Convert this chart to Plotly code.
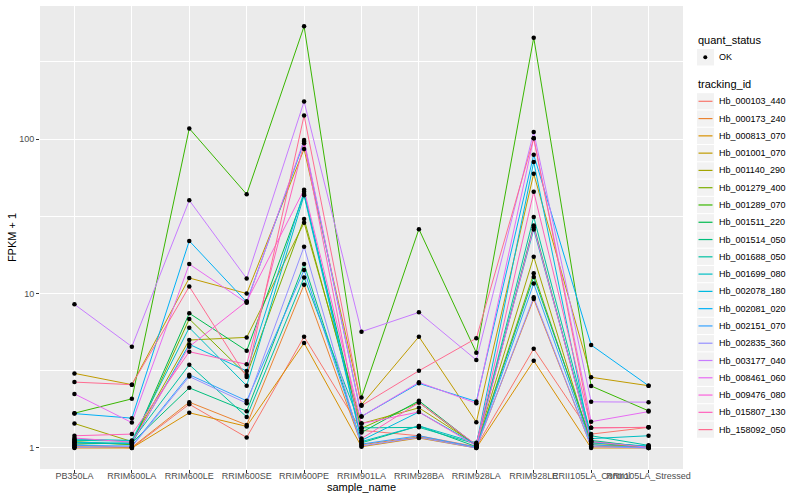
import plotly.graph_objects as go

samples = ["PB350LA", "RRIM600LA", "RRIM600LE", "RRIM600SE", "RRIM600PE", "RRIM901LA",
           "RRIM928BA", "RRIM928LA", "RRIM928LE", "RRII105LA_Control", "RRII105LA_Stressed"]

tracking_ids = ["Hb_000103_440", "Hb_000173_240", "Hb_000813_070", "Hb_001001_070", "Hb_001140_290",
                "Hb_001279_400", "Hb_001289_070", "Hb_001511_220", "Hb_001514_050", "Hb_001688_050",
                "Hb_001699_080", "Hb_002078_180", "Hb_002081_020", "Hb_002151_070", "Hb_002835_360",
                "Hb_003177_040", "Hb_008461_060", "Hb_009476_080", "Hb_015807_130", "Hb_158092_050"]

colors = ["#F8766D", "#EA8331", "#D89000", "#C09B00", "#A3A500", "#7CAE00", "#39B600", "#00BB4E",
          "#00BF7D", "#00C1A3", "#00BFC4", "#00BAE0", "#00B0F6", "#35A2FF", "#9590FF", "#C77CFF",
          "#E76BF3", "#FA62DB", "#FF62BC", "#FF6C91"]

# FPKM + 1 per tracking_id, in the order of samples
fpkm_000103_440 = [1.05, 1.00, 1.92, 1.17, 5.25, 1.30, 1.20, 1.02, 4.39, 1.23, 1.36]
fpkm_000173_240 = [1.02, 1.01, 1.98, 1.41, 11.4, 1.05, 1.18, 1.01, 9.2, 1.02, 1.03]
fpkm_000813_070 = [1.00, 1.00, 1.69, 1.38, 4.78, 1.02, 1.16, 1.00, 3.67, 1.00, 1.00]
fpkm_001001_070 = [3.04, 2.57, 12.6, 10.0, 86.1, 1.90, 5.25, 1.47, 59.6, 2.87, 2.53]
fpkm_001140_290 = [1.44, 1.10, 5.0, 5.2, 28.7, 1.44, 1.82, 1.05, 17.3, 1.05, 1.02]
fpkm_001279_400 = [1.10, 1.05, 6.84, 2.97, 30.4, 1.34, 1.97, 1.03, 13.5, 1.08, 1.01]
fpkm_001289_070 = [1.68, 2.08, 117.0, 43.9, 536.0, 2.12, 26.1, 4.14, 453.0, 2.52, 1.74]
fpkm_001511_220 = [1.08, 1.06, 7.45, 4.26, 44.0, 1.26, 2.02, 1.04, 27.6, 1.10, 1.02]
fpkm_001514_050 = [1.06, 1.08, 2.45, 1.73, 15.5, 1.08, 1.39, 1.02, 12.8, 1.12, 1.01]
fpkm_001688_050 = [1.12, 1.11, 3.46, 1.59, 12.7, 1.35, 1.36, 1.06, 31.3, 1.20, 1.04]
fpkm_001699_080 = [1.14, 1.12, 6.01, 2.53, 43.2, 1.10, 1.39, 1.08, 26.0, 1.15, 1.20]
fpkm_002078_180 = [1.09, 1.07, 4.69, 3.15, 45.5, 1.12, 1.71, 1.05, 71.0, 1.08, 1.03]
fpkm_002081_020 = [1.67, 1.56, 21.9, 8.8, 96.0, 1.60, 2.62, 2.00, 79.1, 4.64, 2.53]
fpkm_002151_070 = [1.04, 1.03, 2.98, 2.02, 14.2, 1.06, 1.20, 1.01, 11.6, 1.05, 1.00]
fpkm_002835_360 = [1.01, 1.02, 2.90, 1.95, 20.1, 1.03, 1.17, 1.00, 9.45, 1.02, 1.00]
fpkm_003177_040 = [8.51, 4.53, 40.1, 12.5, 175.0, 5.66, 7.55, 3.71, 111.0, 1.99, 1.98]
fpkm_008461_060 = [2.24, 1.46, 15.5, 8.7, 98.6, 1.60, 2.66, 1.95, 101.0, 1.48, 1.72]
fpkm_009476_080 = [1.16, 1.09, 4.53, 8.9, 47.0, 1.44, 1.71, 1.03, 26.8, 1.10, 1.01]
fpkm_015807_130 = [1.20, 1.23, 4.2, 3.48, 93.8, 1.15, 1.97, 1.05, 45.6, 1.35, 1.36]
fpkm_158092_050 = [2.67, 2.57, 11.1, 2.88, 142.0, 1.88, 3.16, 5.13, 101.0, 1.35, 1.36]

series = [fpkm_000103_440, fpkm_000173_240, fpkm_000813_070, fpkm_001001_070, fpkm_001140_290,
          fpkm_001279_400, fpkm_001289_070, fpkm_001511_220, fpkm_001514_050, fpkm_001688_050,
          fpkm_001699_080, fpkm_002078_180, fpkm_002081_020, fpkm_002151_070, fpkm_002835_360,
          fpkm_003177_040, fpkm_008461_060, fpkm_009476_080, fpkm_015807_130, fpkm_158092_050]

quant_status = ["OK"]

y_ticks = [1, 10, 100]
y_tick_labels = ["1", "10", "100"]
y_minor = [10 ** 0.5, 10 ** 1.5, 10 ** 2.5]

FONT = "Liberation Sans, Arial, sans-serif"

W, H = 800, 500
ML, MR, MT, MB = 40, 117, 6, 31
PW, PH = W - ML - MR, H - MT - MB


def px(x):
    return (x - ML) / PW


def py(y):
    return (H - MB - y) / PH


fig = go.Figure()

for tid, col, vals in zip(tracking_ids, colors, series):
    fig.add_trace(go.Scatter(
        x=samples, y=vals, mode="lines", name=tid,
        line=dict(color=col, width=1), showlegend=False,
    ))

all_x = [s for _ in series for s in samples]
all_y = [v for vals in series for v in vals]
fig.add_trace(go.Scatter(
    x=all_x, y=all_y, mode="markers", name=quant_status[0],
    marker=dict(color="black", size=4.5), showlegend=False,
))

# ggplot-style legend drawn in paper coordinates
shapes = []
annotations = []
KEY_X0, KEY_X1, TEXT_X = 697, 714, 717
annotations.append(dict(text="quant_status", x=px(696), y=py(40), xref="paper", yref="paper",
                        xanchor="left", yanchor="middle", showarrow=False,
                        font=dict(family=FONT, size=11, color="black")))
shapes.append(dict(type="rect", xref="paper", yref="paper", x0=px(KEY_X0), x1=px(KEY_X1),
                   y0=py(49), y1=py(65.5), fillcolor="#F2F2F2", line=dict(width=0), layer="below"))
shapes.append(dict(type="circle", xref="paper", yref="paper", x0=px(703.3), x1=px(707.3),
                   y0=py(55.3), y1=py(59.3), fillcolor="black", line=dict(width=0)))
annotations.append(dict(text=quant_status[0], x=px(TEXT_X), y=py(57.3), xref="paper", yref="paper",
                        xanchor="left", yanchor="middle", showarrow=False,
                        font=dict(family=FONT, size=9, color="black")))
annotations.append(dict(text="tracking_id", x=px(696), y=py(84.3), xref="paper", yref="paper",
                        xanchor="left", yanchor="middle", showarrow=False,
                        font=dict(family=FONT, size=11, color="black")))
STEP = 17.28
for i, (tid, col) in enumerate(zip(tracking_ids, colors)):
    yc = 101.3 + i * STEP
    shapes.append(dict(type="rect", xref="paper", yref="paper", x0=px(KEY_X0), x1=px(KEY_X1),
                       y0=py(yc + 8.1), y1=py(yc - 8.1), fillcolor="#F2F2F2", line=dict(width=0),
                       layer="below"))
    shapes.append(dict(type="line", xref="paper", yref="paper", x0=px(698.5), x1=px(712.5),
                       y0=py(yc), y1=py(yc), line=dict(color=col, width=1.2)))
    annotations.append(dict(text=tid, x=px(TEXT_X), y=py(yc), xref="paper", yref="paper",
                            xanchor="left", yanchor="middle", showarrow=False,
                            font=dict(family=FONT, size=9, color="black")))

fig.update_layout(
    width=W, height=H,
    margin=dict(l=ML, r=MR, t=MT, b=MB),
    paper_bgcolor="white", plot_bgcolor="#EBEBEB",
    font=dict(family=FONT, size=9, color="#4D4D4D"),
    showlegend=False,
    shapes=shapes, annotations=annotations,
    xaxis=dict(
        type="category", range=[-0.6, 10.6], categoryorder="array", categoryarray=samples,
        showgrid=True, gridcolor="white", gridwidth=1.1,
        ticks="outside", ticklen=3, tickcolor="#333333", tickwidth=1,
        tickangle=0, tickfont=dict(family=FONT, size=9, color="#4D4D4D"),
        ticklabelstandoff=-5,
        title=dict(text="sample_name", font=dict(family=FONT, size=11, color="black"), standoff=2),
        zeroline=False, showline=False, automargin=False,
    ),
    yaxis=dict(
        type="log", range=[-0.136, 2.861],
        tickvals=y_ticks, ticktext=y_tick_labels,
        showgrid=True, gridcolor="white", gridwidth=1.1,
        minor=dict(tickvals=y_minor, showgrid=True, gridcolor="white", gridwidth=0.5, ticks=""),
        ticks="outside", ticklen=3, tickcolor="#333333", tickwidth=1,
        tickfont=dict(family=FONT, size=9, color="#4D4D4D"),
        title=dict(text="FPKM + 1", font=dict(family=FONT, size=11, color="black"), standoff=0),
        zeroline=False, showline=False, automargin=False,
    ),
)

fig.write_html("out.html", config={"displayModeBar": False},
               post_script="document.body.style.margin='0';")
